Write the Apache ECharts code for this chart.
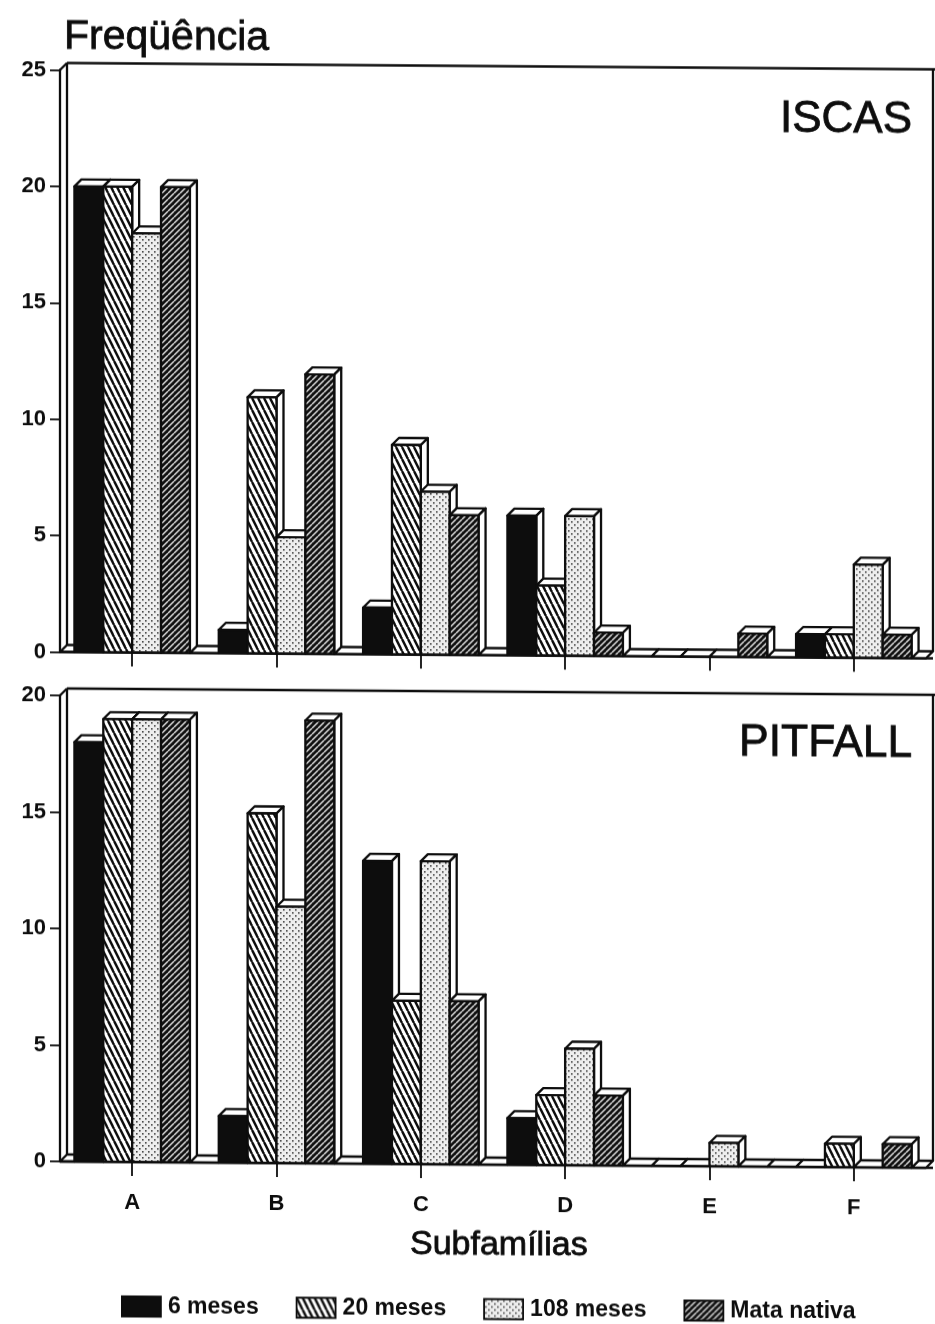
<!DOCTYPE html>
<html>
<head>
<meta charset="utf-8">
<title>Freqüência de subfamílias</title>
<script src="https://cdn.jsdelivr.net/npm/echarts@6/dist/echarts.min.js"></script>
<style>
    html, body { margin: 0; background: #fff; }
    /* the scanned page runs slightly downhill to the right */
    #chart { width: 935px; height: 1324px; transform: skewY(0.42deg); transform-origin: 0 0; }
</style>
</head>
<body>
<div id="chart"></div>
<script>
const subfamilias = ['A', 'B', 'C', 'D', 'E', 'F'];
const grupos = ['6 meses', '20 meses', '108 meses', 'Mata nativa'];

const iscas6 = [20, 1, 2, 6, 0, 1];
const iscas20 = [20, 11, 9, 3, 0, 1];
const iscas108 = [18, 5, 7, 6, 0, 4];
const iscasMata = [20, 12, 6, 1, 1, 1];

const pitfall6 = [18, 2, 13, 2, 0, 0];
const pitfall20 = [19, 15, 7, 3, 0, 1];
const pitfall108 = [19, 11, 13, 5, 1, 0];
const pitfallMata = [19, 19, 7, 3, 0, 1];

const INK = '#0d0d0d';
const DEPTH = 7;
const LINE = 2.3;
const FONT = '"Liberation Sans", Arial, sans-serif';

const makeTile = (w, h, draw) => {
    const canvas = document.createElement('canvas');
    canvas.width = w;
    canvas.height = h;
    draw(canvas.getContext('2d'));
    return { image: canvas, repeat: 'repeat' };
};

const fills = [
    INK,
    // steep stripes falling to the right
    makeTile(6, 12, (ctx) => {
        ctx.fillStyle = '#fff';
        ctx.fillRect(0, 0, 6, 12);
        ctx.strokeStyle = INK;
        ctx.lineWidth = 2.4;
        for (let k = -6; k <= 6; k += 6) {
            ctx.beginPath();
            ctx.moveTo(k, 0);
            ctx.lineTo(k + 6, 12);
            ctx.stroke();
        }
    }),
    makeTile(6, 6, (ctx) => {
        ctx.fillStyle = '#eeeeee';
        ctx.fillRect(0, 0, 6, 6);
        ctx.fillStyle = '#444';
        ctx.fillRect(1, 1, 1.6, 1.6);
        ctx.fillRect(4, 4, 1.6, 1.6);
    }),
    // dark hatch rising to the right
    makeTile(6, 6, (ctx) => {
        ctx.fillStyle = '#111';
        ctx.fillRect(0, 0, 6, 6);
        ctx.strokeStyle = '#e2e2e2';
        ctx.lineWidth = 1.4;
        for (let k = -6; k <= 6; k += 6) {
            ctx.beginPath();
            ctx.moveTo(k, 6);
            ctx.lineTo(k + 6, 0);
            ctx.stroke();
        }
    })
];

const outline = { stroke: INK, lineWidth: LINE, lineJoin: 'round' };

// flat lid of a bar, also what is left of a zero value
const lid = (x, y, w) => ({
    type: 'polygon',
    shape: { points: [[x, y], [x + DEPTH, y - DEPTH], [x + w + DEPTH, y - DEPTH], [x + w, y]] },
    style: { fill: '#fff', ...outline }
});

const renderBar = (slot) => (params, api) => {
    const i = api.value(0);
    const value = api.value(1);
    const base = api.coord([i, 0]);
    const top = api.coord([i, value]);
    const w = api.size([1, 0])[0] * 0.2;
    const x = base[0] + (slot - 2) * w;
    const y = top[1];
    const y0 = base[1];

    if (value === 0) {
        return lid(x, y0, w);
    }
    return {
        type: 'group',
        children: [
            lid(x, y, w),
            {
                type: 'polygon',
                shape: { points: [[x + w, y], [x + w + DEPTH, y - DEPTH], [x + w + DEPTH, y0 - DEPTH], [x + w, y0]] },
                style: { fill: '#fff', ...outline }
            },
            {
                type: 'rect',
                shape: { x, y, width: w, height: y0 - y },
                style: { fill: fills[slot], ...outline }
            }
        ]
    };
};

// back wall and the floor pieces between the groups
const renderFrame = (params, api) => {
    const i = api.value(0);
    const band = api.size([1, 0])[0];
    const center = api.coord([i, 0])[0];
    const y0 = api.coord([i, 0])[1];
    const { x, y, width } = params.coordSys;
    const right = x + width;
    const last = subfamilias.length - 1;
    const children = [];

    const gapStart = i === 0 ? x : center - band * 0.6;
    children.push(lid(gapStart, y0, center - band * 0.4 - gapStart));
    if (i === last) {
        children.push(lid(center + band * 0.4, y0, right - center - band * 0.4));
    }
    if (i === 0) {
        const line = (x1, y1, x2, y2) => ({
            type: 'line',
            shape: { x1, y1, x2, y2 },
            style: { stroke: INK, lineWidth: LINE, fill: null }
        });
        children.push(
            line(x + DEPTH, y0 - DEPTH, x + DEPTH, y - DEPTH),
            line(x, y, x + DEPTH, y - DEPTH),
            line(x + DEPTH, y - DEPTH, api.getWidth(), y - DEPTH),
            line(right + DEPTH, y - DEPTH, right + DEPTH, y0 - DEPTH),
            line(x, y0, right + DEPTH, y0)
        );
    }
    return { type: 'group', children };
};

const panels = [
    { top: 69.5, height: 582, max: 25, series: [iscas6, iscas20, iscas108, iscasMata], labels: false },
    { top: 695, height: 466, max: 20, series: [pitfall6, pitfall20, pitfall108, pitfallMata], labels: true }
];

const chartSeries = [];
panels.forEach((panel, p) => {
    chartSeries.push({
        name: 'frame',
        type: 'custom',
        xAxisIndex: p,
        yAxisIndex: p,
        renderItem: renderFrame,
        encode: { x: 0, y: 1 },
        data: subfamilias.map((name, i) => [i, 0]),
        silent: true
    });
    panel.series.forEach((values, slot) => {
        chartSeries.push({
            name: grupos[slot],
            type: 'custom',
            xAxisIndex: p,
            yAxisIndex: p,
            renderItem: renderBar(slot),
            encode: { x: 0, y: 1 },
            data: values.map((v, i) => [i, v]),
            itemStyle: { color: fills[slot] }
        });
    });
});

const titleText = (text, left, top, fontSize) => ({
    text,
    left,
    top,
    padding: 0,
    textStyle: {
        fontFamily: FONT,
        fontSize,
        fontWeight: 'normal',
        color: INK,
        textBorderColor: INK,
        textBorderWidth: 0.8
    }
});

const option = {
    animation: false,
    backgroundColor: '#fff',
    title: [
        titleText('Freqüência', 64, 16, 41),
        titleText('ISCAS', 780, 92, 44),
        titleText('PITFALL', 739, 715, 44.5),
        titleText('Subfamílias', 410, 1225, 34)
    ],
    legend: {
        data: grupos,
        left: 121,
        top: 1294,
        itemWidth: 39,
        itemHeight: 20,
        itemGap: 37,
        padding: 0,
        selectedMode: false,
        icon: 'rect',
        itemStyle: { borderColor: INK, borderWidth: 1.8 },
        textStyle: { fontFamily: FONT, fontSize: 23, fontWeight: 'bold', color: INK, padding: [0, 0, 0, 2] }
    },
    grid: panels.map((panel) => ({ left: 60, width: 866, top: panel.top, height: panel.height })),
    xAxis: panels.map((panel, p) => ({
        type: 'category',
        gridIndex: p,
        data: subfamilias,
        axisLine: { show: false },
        axisTick: { show: true, alignWithLabel: true, length: 14, lineStyle: { color: INK, width: 1.8 } },
        axisLabel: {
            show: panel.labels,
            margin: 30,
            fontFamily: FONT,
            fontSize: 22,
            fontWeight: 'bold',
            color: INK
        }
    })),
    yAxis: panels.map((panel, p) => ({
        type: 'value',
        gridIndex: p,
        min: 0,
        max: panel.max,
        interval: 5,
        splitLine: { show: false },
        axisLine: { show: true, lineStyle: { color: INK, width: LINE } },
        axisTick: { show: true, length: 10, lineStyle: { color: INK, width: 1.8 } },
        axisLabel: { margin: 14, fontFamily: FONT, fontSize: 22, fontWeight: 'bold', color: INK }
    })),
    series: chartSeries
};

const chart = echarts.init(document.getElementById('chart'), null, { renderer: 'canvas' });
chart.setOption(option);
</script>
</body>
</html>
